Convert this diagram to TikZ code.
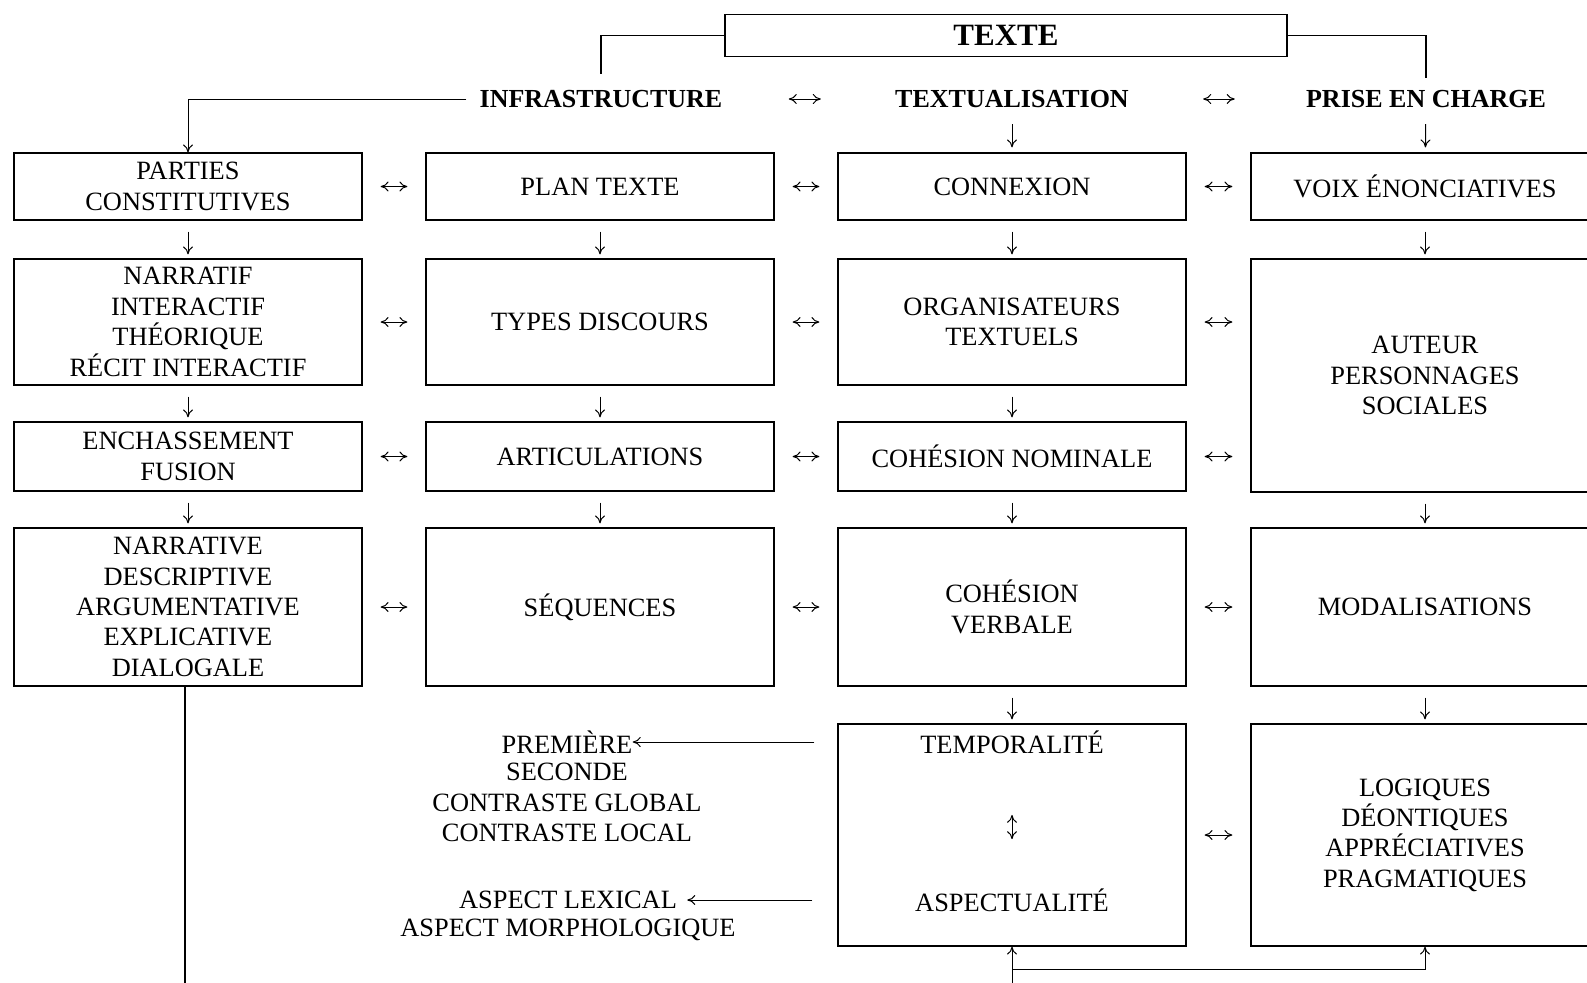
\documentclass[tikz,border=0pt]{standalone}
\usepackage{fontspec}
\setmainfont{Liberation Serif}
\usetikzlibrary{arrows.meta,positioning}

\begin{document}
\begin{tikzpicture}[
  x=0.5pt, y=-0.5pt,
  font=\fontsize{13.2}{15.2}\selectfont,
  cell/.style={draw, line width=0.6pt, minimum width=174pt,
               align=center, inner sep=0pt},
  rowA/.style={cell, minimum height=33.5pt},
  rowB/.style={cell, minimum height=63pt},
  rowC/.style={cell, minimum height=34.5pt},
  rowD/.style={cell, minimum height=79pt},
  rowE/.style={cell, minimum height=111pt},
  head/.style={font=\fontsize{13}{15}\selectfont\bfseries, inner sep=2pt},
  lbl/.style={align=center, inner sep=0pt},
  link/.style={line width=0.6pt},
  arr/.style={-{To[length=4pt,width=5pt]}, line width=0.5pt},
  both/.style={{To[length=4pt,width=5pt]}-{To[length=4pt,width=5pt]}, line width=0.5pt},
  side/.style={both, shorten <=9pt, shorten >=9pt},
  down/.style={arr, shorten <=5.5pt, shorten >=2pt}
]
\useasboundingbox (0,0) rectangle (1587,982);
\clip (0,0) rectangle (1587,982);

% top
\node[draw, link, minimum width=281pt, minimum height=21.25pt,
      font=\fontsize{15.5}{17}\selectfont\bfseries] (texte) at (1006,35.5) {TEXTE};
\node[head] (infra) at (601,99)  {INFRASTRUCTURE};
\node[head] (textu) at (1012,99) {TEXTUALISATION};
\node[head] (prise) at (1426,99) {PRISE EN CHARGE};

% column 1
\node[rowA] (parties)   at (188,186.5) {PARTIES\\CONSTITUTIVES};
\node[rowB] (narratif)  at (188,322)   {NARRATIF\\INTERACTIF\\THÉORIQUE\\RÉCIT INTERACTIF};
\node[rowC] (enchas)    at (188,456.5) {ENCHASSEMENT\\FUSION};
\node[rowD] (narrative) at (188,607)   {NARRATIVE\\DESCRIPTIVE\\ARGUMENTATIVE\\EXPLICATIVE\\DIALOGALE};

% column 2
\node[rowA] (plan)      at (600,186.5) {PLAN TEXTE};
\node[rowB] (discours)  at (600,322)   {TYPES DISCOURS};
\node[rowC] (artic)     at (600,456.5) {ARTICULATIONS};
\node[rowD] (sequences) at (600,607)   {SÉQUENCES};

% column 3
\node[rowA] (connexion) at (1012,186.5) {CONNEXION};
\node[rowB] (organis)   at (1012,322)   {ORGANISATEURS\\TEXTUELS};
\node[rowC] (cohnom)    at (1012,456.5) {COHÉSION NOMINALE};
\node[rowD] (cohverb)   at (1012,607)   {COHÉSION\\VERBALE};
\node[rowE] (tempbox)   at (1012,835)   {};
\node[lbl]  (tempo)     at (1012,742)   {TEMPORALITÉ};
\node[lbl]  (aspect)    at (1012,900)   {ASPECTUALITÉ};

% column 4
\node[rowA] (voix)      at (1425,186.5) {VOIX ÉNONCIATIVES};
\node[cell, minimum height=116.5pt] (auteur) at (1425,375.5) {AUTEUR\\PERSONNAGES\\SOCIALES};
\node[rowD] (modal)     at (1425,607)   {MODALISATIONS};
\node[rowE] (logiques)  at (1425,835)   {LOGIQUES\\DÉONTIQUES\\APPRÉCIATIVES\\PRAGMATIQUES};

% left labels
\node[lbl] (premiere) at (567,742)   {PREMIÈRE};
\node[lbl] (secrest)  at (567,802.5) {SECONDE\\CONTRASTE GLOBAL\\CONTRASTE LOCAL};
\node[lbl] (lexical)  at (568,900)   {ASPECT LEXICAL};
\node[lbl] (morpho)   at (568,930)   {ASPECT MORPHOLOGIQUE};

\coordinate (leftend) at (185,990);
\coordinate (botend)  at (1012,990);
\coordinate (split)   at (1012,969.5);

% links from the title
\draw[link, shorten >=6pt] (texte.west) -| (infra.north);
\draw[link, shorten >=4pt] (texte.east) -| (prise.north);
\draw[arr, shorten <=4.5pt] (infra.west) -| (parties.north);
\draw[side, shorten <=31pt, shorten >=35pt] (infra) -- (textu);
\draw[side, shorten <=35pt, shorten >=33.5pt] (textu) -- (prise);
\draw[arr, shorten <=6pt, shorten >=2.5pt] (textu) -- (connexion);
\draw[arr, shorten <=6pt, shorten >=2.5pt] (prise) -- (voix);

% downward arrows
\draw[down] (parties)  -- (narratif);
\draw[down] (narratif) -- (enchas);
\draw[down] (enchas)   -- (narrative);
\draw[down] (plan)     -- (discours);
\draw[down] (discours) -- (artic);
\draw[down] (artic)    -- (sequences);
\draw[down] (connexion) -- (organis);
\draw[down] (organis)  -- (cohnom);
\draw[down] (cohnom)   -- (cohverb);
\draw[down] (cohverb)  -- (tempbox);
\draw[down] (voix)     -- (auteur.north);
\draw[down] (auteur)   -- (modal);
\draw[down] (modal)    -- (logiques);

% sideways arrows
\draw[side] (parties)   -- (plan);
\draw[side] (narratif)  -- (discours);
\draw[side] (enchas)    -- (artic);
\draw[side] (narrative) -- (sequences);
\draw[side] (plan)      -- (connexion);
\draw[side] (discours)  -- (organis);
\draw[side] (artic)     -- (cohnom);
\draw[side] (sequences) -- (cohverb);
\draw[side] (connexion) -- (voix);
\draw[side] (organis.east) -- (organis.east -| auteur.west);
\draw[side] (cohnom.east)  -- (cohnom.east -| auteur.west);
\draw[side] (cohverb)   -- (modal);
\draw[side] (tempbox)   -- (logiques);

% inside the time box
\draw[both, shorten <=30.5pt, shorten >=24.5pt] (tempo) -- (aspect);
\draw[arr, shorten <=11.5pt] (tempbox.west |- premiere) -- (premiere.east);
\draw[arr, shorten <=12.5pt, shorten >=5pt] (tempbox.west |- lexical) -- (lexical.east);

% bottom
\draw[link] (narrative.south -| leftend) -- (leftend);
\draw[arr] (botend) -- (tempbox.south);
\draw[arr] (split) -| (logiques.south);
\end{tikzpicture}
\end{document}
